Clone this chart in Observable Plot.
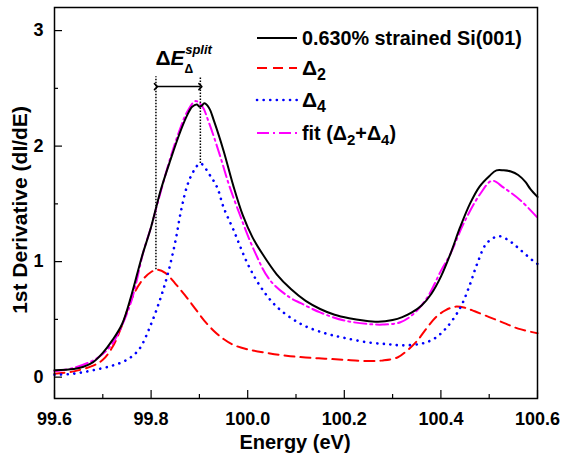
<!DOCTYPE html>
<html><head><meta charset="utf-8">
<script src="https://cdn.jsdelivr.net/npm/d3@7"></script>
<script src="https://cdn.jsdelivr.net/npm/@observablehq/plot@0.6"></script>
<style>body{margin:0;background:#fff}svg{font-family:"Liberation Sans",Arial,sans-serif}</style>
</head><body><div id="chart"></div>
<script>
// measured 0.630% strained Si(001)
const energyMeasured = [99.60,99.64,99.66,99.68,99.70,99.72,99.74,99.76,99.78,99.80,99.82,99.84,99.86,99.875,99.885,99.895,99.90,99.905,99.91,99.92,99.93,99.95,99.97,99.99,100.01,100.03,100.06,100.09,100.12,100.15,100.18,100.21,100.24,100.27,100.30,100.32,100.34,100.36,100.38,100.40,100.42,100.44,100.46,100.48,100.50,100.515,100.53,100.545,100.56,100.575,100.585,100.60];
const valueMeasured = [0.06,0.07,0.09,0.13,0.21,0.32,0.46,0.72,1.03,1.30,1.62,1.88,2.12,2.27,2.34,2.36,2.34,2.35,2.37,2.33,2.22,1.96,1.66,1.40,1.21,1.07,0.89,0.76,0.66,0.59,0.54,0.51,0.49,0.48,0.495,0.52,0.56,0.62,0.72,0.87,1.07,1.30,1.50,1.65,1.74,1.79,1.79,1.78,1.75,1.69,1.63,1.56];
// Delta2 component
const energyD2 = [99.60,99.64,99.68,99.70,99.72,99.74,99.76,99.78,99.80,99.813,99.83,99.85,99.87,99.89,99.91,99.93,99.95,99.97,100.00,100.04,100.08,100.12,100.16,100.20,100.24,100.28,100.31,100.33,100.35,100.37,100.39,100.41,100.43,100.45,100.47,100.50,100.53,100.56,100.60];
const valueD2 = [0.03,0.05,0.10,0.15,0.26,0.45,0.68,0.83,0.91,0.93,0.90,0.81,0.71,0.60,0.49,0.40,0.33,0.28,0.24,0.21,0.185,0.17,0.16,0.15,0.14,0.145,0.17,0.23,0.31,0.42,0.52,0.58,0.61,0.60,0.57,0.52,0.47,0.42,0.38];
// Delta4 component
const energyD4 = [99.60,99.64,99.68,99.72,99.75,99.775,99.80,99.82,99.835,99.85,99.862,99.875,99.889,99.902,99.923,99.937,99.95,99.971,100.00,100.027,100.06,100.11,100.16,100.20,100.25,100.29,100.32,100.36,100.385,100.41,100.44,100.46,100.475,100.495,100.52,100.545,100.565,100.59,100.60];
const valueD4 = [0.02,0.03,0.06,0.10,0.15,0.24,0.46,0.69,0.90,1.17,1.44,1.66,1.79,1.85,1.74,1.64,1.47,1.27,0.98,0.78,0.61,0.46,0.38,0.34,0.30,0.285,0.275,0.29,0.33,0.42,0.60,0.80,0.98,1.16,1.22,1.17,1.10,1.01,0.98];
// fit (Delta2 + Delta4)
const energyFit = [99.60,99.64,99.68,99.70,99.72,99.74,99.76,99.785,99.80,99.813,99.84,99.86,99.875,99.892,99.905,99.92,99.944,99.96,99.978,100.013,100.046,100.087,100.11,100.15,100.20,100.25,100.28,100.316,100.344,100.372,100.40,100.42,100.447,100.482,100.506,100.53,100.565,100.60];
const valueFit = [0.05,0.08,0.145,0.20,0.29,0.45,0.67,1.10,1.30,1.50,1.90,2.15,2.30,2.39,2.35,2.20,1.90,1.68,1.47,1.10,0.84,0.69,0.64,0.56,0.49,0.46,0.455,0.475,0.55,0.69,0.92,1.07,1.33,1.59,1.70,1.64,1.53,1.38];

const xMajorTicks = [99.6,99.8,100.0,100.2,100.4,100.6];
const xMinorTicks = [99.7,99.9,100.1,100.3,100.5];
const yMajorTicks = [0,1,2,3];
const yMinorTicks = [0.5,1.5,2.5];

// splitting annotation: peak energies of Delta2 and Delta4, their peak heights
const splitEnergies = [99.81, 99.902];
const splitPeakValues = [0.93, 1.85];
const splitTop = 2.60;
const splitArrowLevel = 2.515;

const seriesNames = ["0.630% strained Si(001)", "Δ2", "Δ4", "fit (Δ2+Δ4)"];

const rows = (xs, ys) => xs.map((x, i) => ({x, y: ys[i]}));

const plot = Plot.plot({
  width: 562, height: 457,
  marginLeft: 54, marginRight: 25, marginTop: 7, marginBottom: 59,
  x: {domain: [99.6, 100.6]},
  y: {domain: [-0.185, 3.2]},
  style: {fontFamily: "'Liberation Sans', Arial, sans-serif", background: "white"},
  marks: [
    Plot.axisX(xMajorTicks, {tickSize: -8, tickPadding: 22, tickFormat: d3.format(".1f"), fontSize: 18, fontWeight: "bold", label: null, strokeWidth: 1.2}),
    Plot.axisX(xMinorTicks, {tickSize: -4, text: null, label: null, strokeWidth: 1.2}),
    Plot.axisY(yMajorTicks, {tickSize: -8, tickPadding: 19, tickFormat: d3.format("d"), fontSize: 18, fontWeight: "bold", label: null, strokeWidth: 1.2}),
    Plot.axisY(yMinorTicks, {tickSize: -4, text: null, label: null, strokeWidth: 1.2}),
    Plot.ruleX(splitEnergies.map((e, i) => ({e, lo: splitPeakValues[i]})), {x: "e", y1: "lo", y2: () => splitTop, stroke: "black", strokeWidth: 1.5, strokeDasharray: "1.5,1.5"}),
    Plot.link([{a: splitEnergies[0], b: splitEnergies[1], y: splitArrowLevel}], {x1: "a", x2: "b", y1: "y", y2: "y", stroke: "black", strokeWidth: 1.5, markerStart: "arrow", markerEnd: "arrow"}),
    Plot.line(rows(energyD2, valueD2), {x: "x", y: "y", stroke: "#ff0000", strokeWidth: 2, strokeDasharray: "10,6", curve: "catmull-rom"}),
    Plot.line(rows(energyD4, valueD4), {x: "x", y: "y", stroke: "#0000ff", strokeWidth: 2.6, strokeDasharray: "0.1,6.5", strokeLinecap: "round", curve: "catmull-rom"}),
    Plot.line(rows(energyFit, valueFit), {x: "x", y: "y", stroke: "#ff00ff", strokeWidth: 2, strokeDasharray: "12,4,2,4", curve: "catmull-rom"}),
    Plot.line(rows(energyMeasured, valueMeasured), {x: "x", y: "y", stroke: "black", strokeWidth: 2, curve: "catmull-rom"}),
    Plot.frame({stroke: "black", strokeWidth: 1.5})
  ]
});
document.getElementById("chart").appendChild(plot);

const svg = d3.select(plot);
const sx = plot.scale("x");

// axis titles
svg.append("text").attr("x", 295).attr("y", 449).attr("text-anchor", "middle")
  .attr("font-size", 20).attr("font-weight", "bold").attr("fill", "black").text("Energy (eV)");
svg.append("text").attr("transform", "translate(27,210) rotate(-90)").attr("text-anchor", "middle")
  .attr("font-size", 21).attr("font-weight", "bold").attr("fill", "black").text("1st Derivative (dI/dE)");

// splitting label (single text element: ΔE with subscript Δ and superscript "split")
const lab = svg.append("text").attr("x", sx.apply(splitEnergies[0])).attr("y", 65)
  .attr("text-anchor", "start").attr("font-weight", "bold").attr("fill", "black");
lab.append("tspan").attr("font-size", 21).text("Δ");
lab.append("tspan").attr("font-size", 21).attr("font-style", "italic").text("E");
lab.append("tspan").attr("font-size", 12).attr("dy", 8).text("Δ");
lab.append("tspan").attr("font-size", 13).attr("font-style", "italic").attr("dx", -8).attr("dy", -19).text("split");

// legend
const legY = [38, 68, 100, 133];
const legStyles = [
  {stroke: "black", dash: null, w: 2, cap: "butt"},
  {stroke: "#ff0000", dash: "10,6", w: 2, cap: "butt"},
  {stroke: "#0000ff", dash: "0.1,6.5", w: 2.6, cap: "round"},
  {stroke: "#ff00ff", dash: "12,4,2,4", w: 2, cap: "butt"}
];
const leg = svg.append("g");
legY.forEach((y, i) => {
  const s = legStyles[i];
  leg.append("line").attr("x1", 257).attr("x2", 297).attr("y1", y).attr("y2", y)
    .attr("stroke", s.stroke).attr("stroke-width", s.w).attr("stroke-dasharray", s.dash).attr("stroke-linecap", s.cap);
  const t = leg.append("text").attr("x", 302).attr("y", y + 7).attr("text-anchor", "start")
    .attr("font-size", 19.8).attr("font-weight", "bold").attr("fill", "black");
  if (i === 0) t.text(seriesNames[0]);
  else if (i === 1 || i === 2) {
    t.append("tspan").attr("font-size", 21).text("Δ");
    t.append("tspan").attr("font-size", 16).attr("dy", 5).text(i === 1 ? "2" : "4");
  } else {
    t.append("tspan").text("fit (Δ");
    t.append("tspan").attr("font-size", 15).attr("dy", 5).text("2");
    t.append("tspan").attr("dy", -5).text("+Δ");
    t.append("tspan").attr("font-size", 15).attr("dy", 5).text("4");
    t.append("tspan").attr("dy", -5).text(")");
  }
});
</script>
</body></html>
